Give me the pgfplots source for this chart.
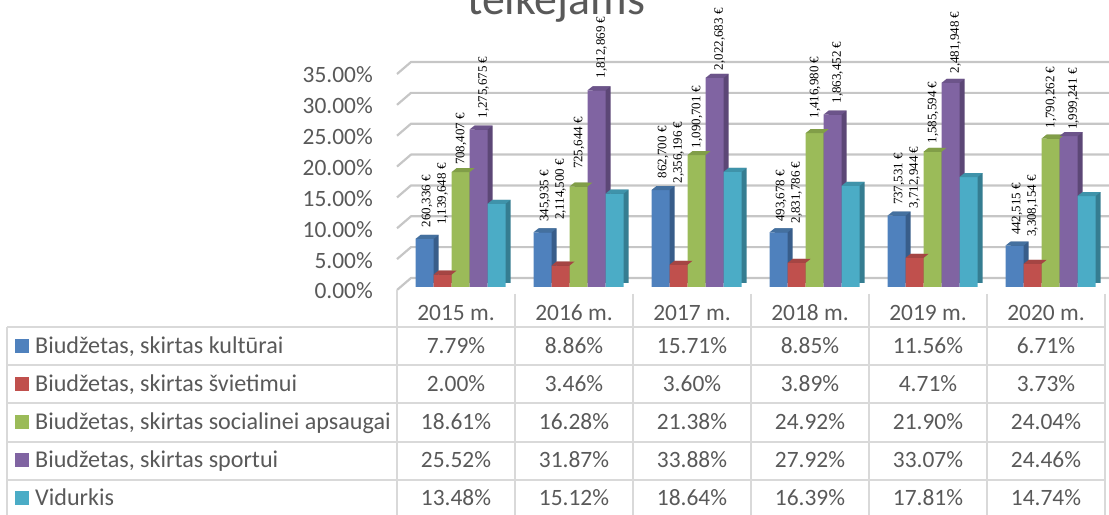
\documentclass[border=0pt]{standalone}
\usepackage{pgfplots}
\pgfplotsset{compat=1.18}
\usepackage{pgfplotstable}
\usepackage{fontspec}
\setmainfont{Carlito}
\newfontfamily\serifl{Liberation Serif}

\definecolor{cBlue}{HTML}{4F81BD}
\definecolor{cBlueS}{HTML}{385D8A}
\definecolor{cBlueT}{HTML}{44709F}
\definecolor{cRed}{HTML}{C0504D}
\definecolor{cRedS}{HTML}{8C3836}
\definecolor{cRedT}{HTML}{A54543}
\definecolor{cGreen}{HTML}{9BBB59}
\definecolor{cGreenS}{HTML}{71893F}
\definecolor{cGreenT}{HTML}{819E48}
\definecolor{cPurple}{HTML}{8064A2}
\definecolor{cPurpleS}{HTML}{5C4776}
\definecolor{cPurpleT}{HTML}{6C548A}
\definecolor{cCyan}{HTML}{4BACC6}
\definecolor{cCyanS}{HTML}{357D91}
\definecolor{cCyanT}{HTML}{3F93AA}
\definecolor{txt}{HTML}{595959}
\definecolor{gridc}{HTML}{C6C6C6}
\definecolor{tabc}{HTML}{D9D9D9}

\pgfplotstableread{
x kult svie soc sport vid
0 7.79 2.00 18.61 25.52 13.48
1 8.86 3.46 16.28 31.87 15.12
2 15.71 3.60 21.38 33.88 18.64
3 8.85 3.89 24.92 27.92 16.39
4 11.56 4.71 21.90 33.07 17.81
5 6.71 3.73 24.04 24.46 14.74
}\data

% top face of a 3-D column, drawn at the top of the front face
\pgfdeclareplotmark{capmark}{%
  \pgfpathmoveto{\pgfpoint{-9bp}{0bp}}%
  \pgfpathlineto{\pgfpoint{9bp}{0bp}}%
  \pgfpathlineto{\pgfpoint{14bp}{4bp}}%
  \pgfpathlineto{\pgfpoint{-4bp}{4bp}}%
  \pgfpathclose
  \pgfusepathqfill
}

\newcommand\tdbar[5]{%
 \addplot[ybar, bar width=18bp, bar shift=#5, draw=none, fill=#3, xshift=5bp, yshift=4bp] table[x=x,y=#1]{\data};
 \addplot[ybar, bar width=18bp, bar shift=#5, draw=none, fill=#2] table[x=x,y=#1]{\data};
 \addplot[only marks, mark=capmark, xshift=#5, mark options={draw=none, fill=#4}] table[x=x,y=#1]{\data};
}

\tikzset{eurolab/.style={xshift=#1, rotate=90, anchor=west, inner sep=0pt, outer sep=0pt, font=\serifl\fontsize{13}{13}\selectfont, text=black}}

\begin{document}
\begin{tikzpicture}
\begin{axis}[at={(397bp,228bp)}, anchor=south west, scale only axis,
  width=708bp, height=216bp, xmin=-0.5, xmax=5.5, ymin=0, ymax=35, clip=false,
  axis line style={draw=none}, major tick length=0pt, xtick=\empty,
  ytick={0,5,...,35},
  yticklabels={0.00\%,5.00\%,10.00\%,15.00\%,20.00\%,25.00\%,30.00\%,35.00\%},
  yticklabel style={font=\fontsize{23.5}{23.5}\selectfont, text=txt, anchor=east, inner sep=0pt, xshift=-24bp, yshift=-4bp}]
\pgfplotsinvokeforeach{0,5,...,35}{
  \draw[gridc, line width=2.2bp, line join=round] ([yshift=-3bp]axis cs:-0.5,#1) -- ([xshift=14bp,yshift=9bp]axis cs:-0.5,#1) -- ([xshift=10bp,yshift=9bp]axis cs:5.5,#1);
}
\tdbar{kult}{cBlue}{cBlueS}{cBlueT}{-31.5bp}
\tdbar{svie}{cRed}{cRedS}{cRedT}{-13.5bp}
\tdbar{soc}{cGreen}{cGreenS}{cGreenT}{4.5bp}
\tdbar{sport}{cPurple}{cPurpleS}{cPurpleT}{22.5bp}
\tdbar{vid}{cCyan}{cCyanS}{cCyanT}{40.5bp}

\addplot[draw=none, mark=none, nodes near coords, point meta=explicit symbolic,
  every node near coord/.style={eurolab=-29bp}]
  coordinates {(0,9.72)[260,336 €] (1,10.58)[345,935 €] (2,17.61)[862,700 €] (3,10.58)[493,678 €] (4,13.29)[737,531 €] (5,8.43)[442,515 €]};
\addplot[draw=none, mark=none, nodes near coords, point meta=explicit symbolic,
  every node near coord/.style={eurolab=-13.5bp}]
  coordinates {(0,10.05)[1,139,648 €] (1,10.86)[2,114,500 €] (2,16.80)[2,356,196 €] (3,10.32)[2,831,786 €] (4,12.75)[3,712,944 €] (5,8.15)[3,308,154 €]};
\addplot[draw=none, mark=none, nodes near coords, point meta=explicit symbolic,
  every node near coord/.style={eurolab=5bp}]
  coordinates {(0,19.77)[708,407 €] (1,19.12)[725,644 €] (2,22.52)[1,090,701 €] (3,27.34)[1,416,980 €] (4,23.28)[1,585,594 €] (5,25.72)[1,790,262 €]};
\addplot[draw=none, mark=none, nodes near coords, point meta=explicit symbolic,
  every node near coord/.style={eurolab=27.5bp}]
  coordinates {(0,27.34)[1,275,675 €] (1,33.82)[1,812,869 €] (2,35.16)[2,022,683 €] (3,29.77)[1,863,452 €] (4,34.63)[2,481,948 €] (5,25.44)[1,999,241 €]};
\end{axis}

\begin{scope}[x=1bp, y=-1bp, shift={(0,515bp)}]
  % title (cut off at the top)
  \node[anchor=base, text=txt, font=\fontsize{46}{46}\selectfont, inner sep=0pt] at (556,14.5) {teikėjams};
  % table lines
  \foreach \yy in {326.7,365,403.3,441.7,480} \draw[tabc, line width=1.8bp] (7,\yy) -- (1105,\yy);
  \draw[tabc, line width=1.8bp] (7,326.7) -- (7,515);
  \draw[tabc, line width=1.8bp] (397,290) -- (397,515);
  \foreach \xx in {515,633,751,869,987,1105} \draw[tabc, line width=1.8bp] (\xx,294) -- (\xx,515);
  % header
  \foreach \lab [count=\i from 0] in {2015 m.,2016 m.,2017 m.,2018 m.,2019 m.,2020 m.}
    \node[anchor=base, text=txt, font=\fontsize{23.5}{23.5}\selectfont, inner sep=0pt] at (456+118*\i,320.5) {\lab};
  % legend keys and row names
  \foreach \c/\nm [count=\r from 0] in {cBlue/{Biudžetas, skirtas kultūrai},cRed/{Biudžetas, skirtas švietimui},cGreen/{Biudžetas, skirtas socialinei apsaugai},cPurple/{Biudžetas, skirtas sportui},cCyan/{Vidurkis}}{
    \fill[\c] (15,{346+38.1*\r-7}) rectangle (29,{346+38.1*\r+7});
    \node[anchor=base west, text=txt, font=\fontsize{24.2}{24.2}\selectfont, inner sep=0pt] at (35,{353.5+38.1*\r}) {\nm};
  }
  % values
  \foreach \vals [count=\r from 0] in {
    {7.79\%,8.86\%,15.71\%,8.85\%,11.56\%,6.71\%},
    {2.00\%,3.46\%,3.60\%,3.89\%,4.71\%,3.73\%},
    {18.61\%,16.28\%,21.38\%,24.92\%,21.90\%,24.04\%},
    {25.52\%,31.87\%,33.88\%,27.92\%,33.07\%,24.46\%},
    {13.48\%,15.12\%,18.64\%,16.39\%,17.81\%,14.74\%}}{
    \foreach \v [count=\i from 0] in \vals
      \node[anchor=base, text=txt, font=\fontsize{23.5}{23.5}\selectfont, inner sep=0pt] at (456+118*\i,{353.5+38.1*\r}) {\v};
  }
\end{scope}
\pgfresetboundingbox
\useasboundingbox (0,0) rectangle (1109bp,515bp);
\end{tikzpicture}
\end{document}
